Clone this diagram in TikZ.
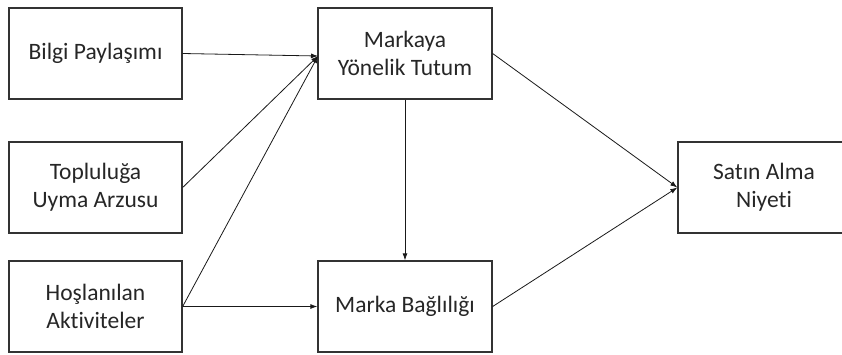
\documentclass[tikz,border=0pt]{standalone}
\usepackage{fontspec}
\setmainfont{Carlito}[Ligatures=NoCommon]
\usetikzlibrary{arrows.meta}
\begin{document}
\begin{tikzpicture}[x=1pt,y=-1pt,
  box/.style={draw=black!80,line width=1.3pt,rectangle,align=center,
    minimum height=91pt,inner sep=0pt,font=\fontsize{23.5}{28}\selectfont,text=black!85},
  leftbox/.style={box,minimum width=173pt},
  midbox/.style={box,minimum width=174pt},
  conn/.style={draw=black!90,line width=0.8pt,-{Latex[length=7pt,width=5pt]}}]
\useasboundingbox (0,0) rectangle (842,354);
\clip (0,0) rectangle (842,354);
\node[leftbox] (BP) at (95.5,53.5) {Bilgi Paylaşımı};
\node[leftbox] (TU) at (95.5,187.5) {Topluluğa\\Uyma Arzusu};
\node[leftbox] (HA) at (95.5,306.5) {Hoşlanılan\\Aktiviteler};
\node[midbox] (MY) at (405,53.5) {Markaya\\Yönelik Tutum};
\node[midbox] (MB) at (405,306.5) {Marka Bağlılığı};
\node[box,minimum width=172pt] (SA) at (764,187.5) {Satın Alma\\Niyeti};
\coordinate (myin) at (318,56);
\draw[conn] (BP.east) -- (myin);
\draw[conn] (TU.east) -- (myin);
\draw[conn] (HA.east) -- (myin);
\draw[conn] (HA.east) -- (MB.west);
\draw[conn] (MY.south) -- (MB.north);
\draw[conn] (MY.east) -- (SA.west);
\draw[conn] (MB.east) -- (SA.west);
\end{tikzpicture}
\end{document}
